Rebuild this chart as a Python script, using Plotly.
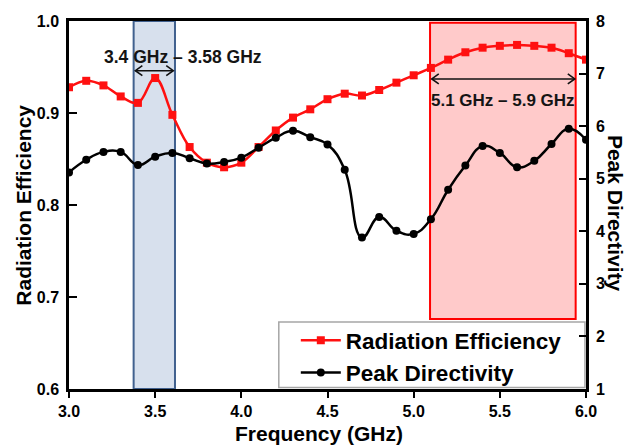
import plotly.graph_objects as go

# ---------------- data ----------------
freq = [3.0, 3.1, 3.2, 3.3, 3.4, 3.5, 3.6, 3.7, 3.8, 3.9,
        4.0, 4.1, 4.2, 4.3, 4.4, 4.5, 4.6, 4.7, 4.8, 4.9,
        5.0, 5.1, 5.2, 5.3, 5.4, 5.5, 5.6, 5.7, 5.8, 5.9, 6.0]

rad_eff = [0.928, 0.935, 0.930, 0.918, 0.911, 0.938, 0.898, 0.863, 0.846, 0.841,
           0.846, 0.863, 0.881, 0.895, 0.904, 0.915, 0.921, 0.919, 0.925, 0.933,
           0.941, 0.949, 0.958, 0.966, 0.971, 0.973, 0.974, 0.973, 0.971, 0.965, 0.958]

peak_dir = [5.12, 5.36, 5.51, 5.51, 5.26, 5.42, 5.49, 5.39, 5.29, 5.32,
            5.40, 5.59, 5.78, 5.91, 5.79, 5.65, 5.17, 3.88, 4.27, 4.01,
            3.95, 4.23, 4.79, 5.25, 5.62, 5.49, 5.22, 5.34, 5.66, 5.95, 5.74]

x_ticks = [3.0, 3.5, 4.0, 4.5, 5.0, 5.5, 6.0]
y_ticks = [0.6, 0.7, 0.8, 0.9, 1.0]
y2_ticks = [1, 2, 3, 4, 5, 6, 7, 8]

band1 = [3.375, 3.615]          # highlighted band 1 (GHz)
band2 = [5.095, 5.94]           # highlighted band 2 (GHz)
band2_y = [0.676, 0.998]
arrow1 = [3.385, 3.605, 0.946]  # x0, x1, y (left axis units)
arrow2 = [5.105, 5.935, 0.937]
label1 = "3.4 GHz – 3.58 GHz"
label1_x = 3.66
label2 = "5.1 GHz – 5.9 GHz"

FONT = "Liberation Sans, Arial, sans-serif"

fig = go.Figure()

fig.add_trace(go.Scatter(
    x=freq, y=rad_eff, name="Radiation Efficiency",
    mode="lines+markers",
    line=dict(color="#ff1010", width=2.5, shape="spline", smoothing=1.1),
    marker=dict(symbol="square", size=8, color="#ff1010"),
    yaxis="y"))

fig.add_trace(go.Scatter(
    x=freq, y=peak_dir, name="Peak Directivity",
    mode="lines+markers",
    line=dict(color="#000000", width=2.5, shape="spline", smoothing=1.3),
    marker=dict(symbol="circle", size=8, color="#000000"),
    yaxis="y2"))

shapes = [
    dict(type="rect", xref="x", yref="paper", x0=band1[0], x1=band1[1], y0=0, y1=1,
         fillcolor="#d7e0ed", line=dict(color="#41618f", width=2), layer="below"),
    dict(type="rect", xref="x", yref="y", x0=band2[0], x1=band2[1], y0=band2_y[0], y1=band2_y[1],
         fillcolor="#ffcaca", line=dict(color="#ff0000", width=2), layer="below"),
    dict(type="rect", xref="paper", yref="paper", x0=0.4058, x1=0.998, y0=0.004, y1=0.182,
         fillcolor="white", line=dict(color="#a6a6a6", width=1.5), layer="below"),
]

for a in (arrow1, arrow2):
    shapes.append(dict(type="line", xref="x", yref="y", x0=a[0], x1=a[1], y0=a[2], y1=a[2],
                       line=dict(color="#111111", width=1.6), layer="above"))
    shapes.append(dict(type="path", xref="x", yref="y", xsizemode="pixel", ysizemode="pixel",
                       xanchor=a[0], yanchor=a[2], path="M 7,5 L 0,0 L 7,-5",
                       line=dict(color="#111111", width=1.6), layer="above"))
    shapes.append(dict(type="path", xref="x", yref="y", xsizemode="pixel", ysizemode="pixel",
                       xanchor=a[1], yanchor=a[2], path="M -7,5 L 0,0 L -7,-5",
                       line=dict(color="#111111", width=1.6), layer="above"))

annotations = [
    dict(text=label1, x=label1_x, y=arrow1[2], xref="x", yref="y",
         yshift=14, showarrow=False, font=dict(family=FONT, size=17.5, color="#141414", weight=700)),
    dict(text=label2, x=(arrow2[0] + arrow2[1]) / 2, y=arrow2[2], xref="x", yref="y",
         yshift=-22, showarrow=False, font=dict(family=FONT, size=17, color="#141414", weight=700)),
    dict(text="Radiation Efficiency", x=-0.0896, y=0.5, xref="paper", yref="paper",
         textangle=-90, showarrow=False, xanchor="center", yanchor="middle",
         font=dict(family=FONT, size=21, color="black", weight=700)),
    dict(text="Peak Directivity", x=1.056, y=0.476, xref="paper", yref="paper",
         textangle=90, showarrow=False, xanchor="center", yanchor="middle",
         font=dict(family=FONT, size=21, color="black", weight=700)),
    dict(text="Frequency (GHz)", x=0.484, y=-0.1196, xref="paper", yref="paper",
         showarrow=False, xanchor="center", yanchor="middle",
         font=dict(family=FONT, size=21, color="black", weight=700)),
]

tickfont = dict(family=FONT, size=16, color="black", weight=700)

fig.update_layout(
    width=630, height=446,
    margin=dict(l=69, r=44, t=21, b=57, pad=0),
    paper_bgcolor="white", plot_bgcolor="white",
    showlegend=True,
    legend=dict(x=0.4387, y=0.19, xanchor="left", yanchor="top",
                bgcolor="rgba(0,0,0,0)", borderwidth=0,
                font=dict(family=FONT, size=22.5, color="black", weight=700),
                tracegroupgap=0, itemwidth=40),
    xaxis=dict(range=[3.0, 6.0], tickvals=x_ticks, tickformat=".1f",
               ticks="outside", ticklen=6, tickwidth=2, tickcolor="black",
               showline=True, linecolor="black", linewidth=2.5, mirror=True,
               showgrid=False, zeroline=False, tickfont=tickfont),
    yaxis=dict(range=[0.6, 1.0], tickvals=y_ticks, tickformat=".1f",
               ticks="inside", ticklen=8, tickwidth=2, tickcolor="black",
               showline=True, linecolor="black", linewidth=2.5,
               showgrid=False, zeroline=False, tickfont=tickfont, ticklabelstandoff=4),
    yaxis2=dict(range=[1, 8], tickvals=y2_ticks, overlaying="y", side="right",
                ticks="inside", ticklen=7, tickwidth=2, tickcolor="black",
                showline=True, linecolor="black", linewidth=2.5,
                showgrid=False, zeroline=False, tickfont=tickfont, ticklabelstandoff=4),
    shapes=shapes,
    annotations=annotations,
)

fig.write_html("out.html")
